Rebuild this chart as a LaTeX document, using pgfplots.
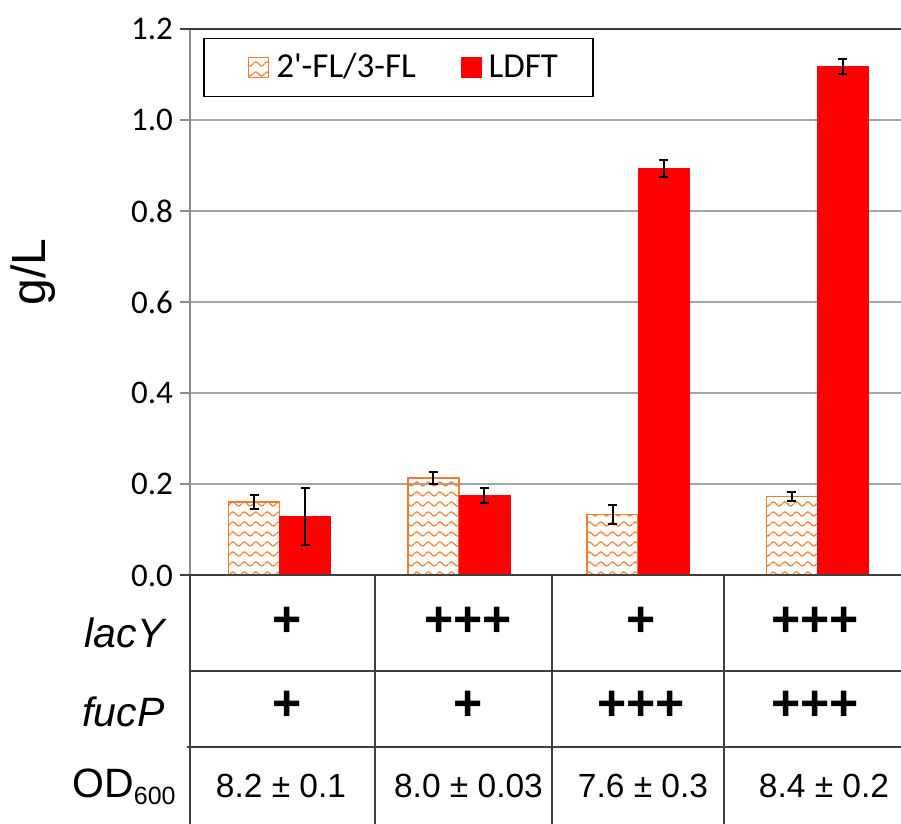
\documentclass[border=0pt]{standalone}
\usepackage{pgfplots}
\pgfplotsset{compat=1.18}
\usepackage{fontspec}
\setmainfont{Liberation Sans}
\newfontfamily\carlito{Carlito}
\usetikzlibrary{patterns.meta}
\definecolor{orB}{HTML}{ED7D31}
\definecolor{orP}{HTML}{F08C45}
\definecolor{gridc}{HTML}{A6A6A6}
\definecolor{spine}{HTML}{8C8C8C}
\definecolor{dark}{HTML}{404040}
\tikzdeclarepattern{
  name=wave, type=uncolored,
  bounding box={(0pt,-2.5pt) and (5.75pt,2.5pt)},
  tile size={(5.75pt,5pt)},
  code={
    \draw[line width=0.7pt] (0pt,0pt) sin (1.4375pt,1pt) cos (2.875pt,0pt) sin (4.3125pt,-1pt) cos (5.75pt,0pt);
  }
}
\pgfplotsset{
  sqleg/.style={legend image code/.code={\path (0pt,0pt); \draw[##1] (8pt,-5pt) rectangle (18pt,5pt);}},
}
\begin{document}
\begin{tikzpicture}
\path[use as bounding box] (0,0) rectangle (450.5pt,412pt);
\begin{axis}[
  at={(95pt,124.25pt)}, anchor=south west,
  scale only axis, width=355.5pt, height=273.3pt,
  xmin=-0.5, xmax=3.4665, ymin=0, ymax=1.2,
  ybar=0pt, bar width=25.5pt,
  axis line style={draw=none},
  xtick=\empty,
  ytick={0,0.2,...,1.2}, ytick pos=left,
  tick align=outside, major tick length=5pt,
  ytick style={draw=spine, line width=1pt},
  ymajorgrids, grid style={draw=gridc, line width=1pt},
  /pgf/number format/assume math mode=true,
  yticklabel style={font=\carlito\fontsize{16.5}{20}\selectfont, /pgf/number format/.cd, fixed, fixed zerofill, precision=1},
  legend columns=2,
  legend style={at={(0.0183,0.9835)}, anchor=north west, draw=black, line width=0.75pt,
    inner xsep=14pt, inner ysep=7pt,
    font=\carlito\fontsize{17.5}{21}\selectfont,
    nodes={inner xsep=3.5pt, inner ysep=0pt, text height=12.5pt, text depth=2.5pt},
    /tikz/every even column/.append style={column sep=11pt}},
  clip=false,
]
\addplot[draw=orB, line width=0.75pt, pattern=wave, pattern color=orP, sqleg,
  error bars/.cd, y dir=both, y explicit,
  error bar style={black, line width=1pt},
  error mark options={black, line width=1pt, mark size=2.25pt, rotate=90}]
  coordinates {(0,0.161) +- (0,0.016) (1,0.214) +- (0,0.013) (2,0.134) +- (0,0.021) (3,0.173) +- (0,0.010)};
\addlegendentry{2'-FL/3-FL}
\addplot[draw=red, fill=red, line width=0.3pt, sqleg,
  error bars/.cd, y dir=both, y explicit,
  error bar style={black, line width=1pt},
  error mark options={black, line width=1pt, mark size=2.25pt, rotate=90}]
  coordinates {(0,0.130) +- (0,0.063) (1,0.176) +- (0,0.016) (2,0.894) +- (0,0.019) (3,1.118) +- (0,0.016)};
\addlegendentry{LDFT}
\end{axis}
\begin{scope}[x=0.5pt, y=-0.5pt, shift={(0pt,412pt)}]
  % axis frame lines
  \draw[spine, line width=1pt] (190,29) -- (190,575.5);
  \draw[dark, line width=1pt] (180,29) -- (901,29);
  \draw[dark, line width=1pt] (180,575.5) -- (901,575.5);
  % table lines
  \draw[dark, line width=1pt] (189.5,575.5) -- (189.5,824);
  \foreach \x in {375,552,724} \draw[dark, line width=1pt] (\x,575.5) -- (\x,824);
  \draw[dark, line width=1pt] (189,671.5) -- (901,671.5);
  \draw[dark, line width=1pt] (187,747.5) -- (901,747.5);
  % y label
  \node[rotate=90, font=\fontsize{24}{28}\selectfont] at (33,272) {g/L};
  % row labels
  \node[anchor=base east, inner sep=0pt, font=\fontsize{20.5}{24}\selectfont\itshape] at (165,648) {lacY};
  \node[anchor=base east, inner sep=0pt, font=\fontsize{20.5}{24}\selectfont\itshape] at (165,727) {fucP};
  \node[anchor=base east, inner sep=0pt, font=\fontsize{20.5}{24}\selectfont] at (176,798) {OD{\fontsize{12.5}{14}\selectfont\raisebox{-3.5pt}{600}}};
  % plus signs
  \tikzset{pl/.style={inner sep=0pt, font=\bfseries\fontsize{25}{30}\selectfont}}
  \node[pl] at (287,621.7) {+};
  \node[pl] at (468,621.7) {+++};
  \node[pl] at (641,621.7) {+};
  \node[pl] at (815,621.7) {+++};
  \node[pl] at (287,705.7) {+};
  \node[pl] at (468,705.7) {+};
  \node[pl] at (641,705.7) {+++};
  \node[pl] at (815,705.7) {+++};
  % OD values
  \tikzset{vl/.style={anchor=base, inner sep=0pt, font=\fontsize{16.75}{20}\selectfont}}
  \node[vl] at (281,798) {8.2 ± 0.1};
  \node[vl] at (468.5,798) {8.0 ± 0.03};
  \node[vl] at (643,798) {7.6 ± 0.3};
  \node[vl] at (824,798) {8.4 ± 0.2};
\end{scope}
\end{tikzpicture}
\end{document}
